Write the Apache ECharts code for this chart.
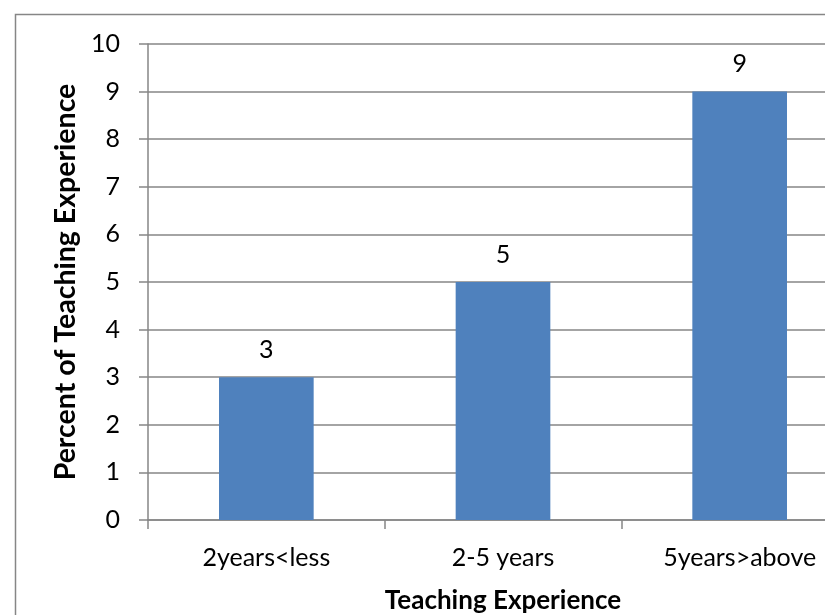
<!DOCTYPE html>
<html>
<head>
<meta charset="utf-8">
<script src="https://cdn.jsdelivr.net/npm/echarts@6/dist/echarts.min.js"></script>
<style>
  html, body { margin: 0; padding: 0; background: #fff; }
  #chart { width: 825px; height: 615px; }
</style>
</head>
<body>
<div id="chart"></div>
<script>
  // data
  var categories = ["2years<less", "2-5 years", "5years>above"];
  var values = [3, 5, 9];
  var yTicks = [0, 10, 1]; // min, max, interval

  var gray = "#868686";
  var font = "Lato, 'Open Sans', sans-serif";

  var myChart = echarts.init(document.getElementById("chart"));
  myChart.setOption({
    animation: false,
    graphic: [
      {
        type: "rect",
        left: 13, top: 12,
        shape: { width: 900, height: 700 },
        style: { fill: "none", stroke: gray, lineWidth: 1.5 },
        z: -1
      }
    ],
    // plot runs past the right edge, as in the cropped reference
    grid: { left: 148, right: -33, top: 44, bottom: 95, outerBoundsMode: "none", containLabel: false },
    xAxis: {
      type: "category",
      data: categories,
      name: "Teaching Experience",
      nameLocation: "middle",
      nameGap: 68,
      nameTextStyle: { fontFamily: font, fontSize: 26, fontWeight: "bold", color: "#000" },
      axisLine: { lineStyle: { color: gray, width: 1.5 } },
      axisTick: { show: true, length: 9, lineStyle: { color: gray, width: 1.5 } },
      axisLabel: { fontFamily: font, fontSize: 25, color: "#000", margin: 25 }
    },
    yAxis: {
      type: "value",
      min: yTicks[0],
      max: yTicks[1],
      interval: yTicks[2],
      name: "Percent of Teaching Experience",
      nameLocation: "middle",
      nameGap: 64,
      nameTextStyle: { fontFamily: font, fontSize: 28.5, fontWeight: "bold", color: "#000" },
      axisLine: { show: true, lineStyle: { color: gray, width: 1.5 } },
      axisTick: { show: true, length: 9, lineStyle: { color: gray, width: 1.5 } },
      axisLabel: { fontFamily: font, fontSize: 25, color: "#000", margin: 28 },
      splitLine: { show: true, lineStyle: { color: gray, width: 1.5 } }
    },
    series: [
      {
        type: "bar",
        data: values,
        barWidth: "40%",
        itemStyle: { color: "#4F81BD" },
        label: {
          show: true,
          position: "top",
          distance: 15,
          fontFamily: font,
          fontSize: 25,
          color: "#000"
        }
      }
    ]
  });
</script>
</body>
</html>
